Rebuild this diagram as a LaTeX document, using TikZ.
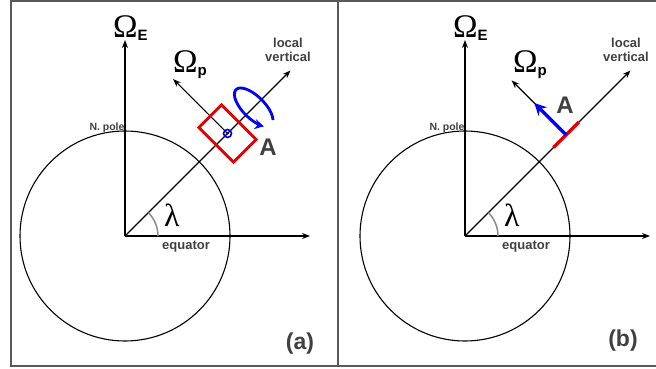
\documentclass[tikz,border=0pt]{standalone}
\usepackage{fontspec}
\setmainfont{Liberation Sans}
\newfontfamily\greekfont{Liberation Serif}
\usetikzlibrary{arrows.meta, positioning, calc}

\newcommand{\omegalbl}[1]{{\greekfont\fontsize{33}{33}\selectfont Ω}\raisebox{-3pt}{\fontsize{15}{15}\selectfont\bfseries #1}}

\begin{document}
\begin{tikzpicture}[
    x=1pt, y=1pt,
    >={Stealth[length=8pt, width=6pt]},
    axis/.style={->, line width=1.1pt},
    lbl/.style={font=\bfseries, text=black!75},
    small/.style={lbl, font=\bfseries\fontsize{13}{14}\selectfont, align=center},
    every node/.style={inner sep=0pt}
  ]
  \useasboundingbox (0,0) rectangle (656,368);
  % Frame
  \draw[line width=1.8pt, black!65] (11,2) rectangle (660,367);
  \draw[line width=1.8pt, black!65] (338,2) -- (338,367);

  % Panel (a)
  \coordinate (Oa) at (125,132);
  \coordinate (Ea) at (125,328);
  \coordinate (Xa) at (310,132);
  \coordinate (Va) at ($(Oa)+(45:234)$);
  \coordinate (Pa) at ($(Oa)+(45:145)$);
  \coordinate (Qa) at ($(Pa)+(135:77)$);
  \coordinate (Ra) at ($(Oa)+(45:182)$);
  \draw[line width=1.1pt] (Oa) circle (105);
  \draw[axis] (Oa) -- (Ea);
  \draw[axis] (Oa) -- (Xa);
  \draw[axis] (Oa) -- (Va);
  \draw[axis] (Pa) -- (Qa);
  \draw[black!45, line width=1.5pt] ($(Oa)+(33,0)$) arc (0:45:33);
  \draw[red!90!black, line width=2.8pt, rotate around={45:(Pa)}]
    ($(Pa)+(-16,-24.5)$) rectangle ($(Pa)+(16,24.5)$);
  \draw[blue!80!black, line width=1.6pt] (Pa) circle (4);
  \fill[blue!80!black] (Pa) circle (1.3);
  \begin{scope}[shift={(Ra)}, rotate=135]
    \draw[->, blue, line width=2.8pt, >={Stealth[length=9pt, width=10pt]}]
      (205:25 and 11) arc (205:505:25 and 11);
  \end{scope}
  \node[anchor=base west] (OEa) at (113,331) {\omegalbl{E}};
  \node[anchor=base west] (OPa) at (173,296) {\omegalbl{p}};
  \node[small] (LVa) at (288,318) {local\\vertical};
  \node[lbl, font=\bfseries\fontsize{10.5}{11}\selectfont] (NPa) at (107,240) {N. pole};
  \node[small] (EQa) at (186,121) {equator};
  \node[font=\greekfont\fontsize{32}{32}\selectfont] (La) at (172,153) {λ};
  \node[lbl, font=\bfseries\fontsize{24}{24}\selectfont] (Aa) at (268,221) {A};
  \node[lbl, font=\bfseries\fontsize{23}{23}\selectfont] (Ta) at (300,24) {(a)};

  % Panel (b)
  \coordinate (Ob) at (465,132);
  \coordinate (Eb) at (465,328);
  \coordinate (Xb) at (650,132);
  \coordinate (Vb) at ($(Ob)+(45:234)$);
  \coordinate (Pb) at ($(Ob)+(45:143)$);
  \coordinate (Qb) at ($(Pb)+(135:77)$);
  \coordinate (Bb) at ($(Pb)+(135:45)$);
  \draw[line width=1.1pt] (Ob) circle (105);
  \draw[axis] (Ob) -- (Eb);
  \draw[axis] (Ob) -- (Xb);
  \draw[axis] (Ob) -- (Vb);
  \draw[axis] (Pb) -- (Qb);
  \draw[black!45, line width=1.5pt] ($(Ob)+(33,0)$) arc (0:45:33);
  \draw[red!90!black, line width=3.2pt] ($(Pb)+(45:-18)$) -- ($(Pb)+(45:18)$);
  \draw[->, blue, line width=3.2pt, >={Stealth[length=12pt, width=12pt]}] (Pb) -- (Bb);
  \node[anchor=base west] (OEb) at (453,331) {\omegalbl{E}};
  \node[anchor=base west] (OPb) at (513,296) {\omegalbl{p}};
  \node[small] (LVb) at (626,318) {local\\vertical};
  \node[lbl, font=\bfseries\fontsize{10.5}{11}\selectfont] (NPb) at (447,240) {N. pole};
  \node[small] (EQb) at (526,121) {equator};
  \node[font=\greekfont\fontsize{32}{32}\selectfont] (Lb) at (512,153) {λ};
  \node[lbl, font=\bfseries\fontsize{24}{24}\selectfont] (Ab) at (565,263) {A};
  \node[lbl, font=\bfseries\fontsize{23}{23}\selectfont] (Tb) at (623,27) {(b)};
\end{tikzpicture}
\end{document}
